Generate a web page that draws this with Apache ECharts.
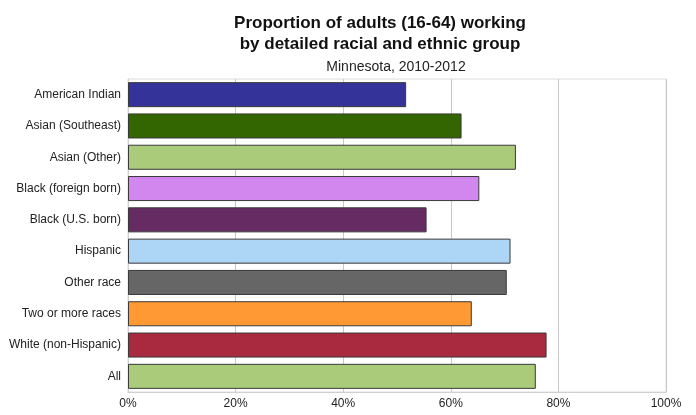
<!DOCTYPE html>
<html>
<head>
<meta charset="utf-8">
<script src="https://cdn.jsdelivr.net/npm/echarts@6/dist/echarts.min.js"></script>
<style>
    html, body { margin: 0; padding: 0; background: #fff; }
    #main { width: 696px; height: 415px; }
</style>
</head>
<body>
<div id="main"></div>
<script type="text/javascript">
    // groups, top to bottom
    var categories = ['American Indian', 'Asian (Southeast)', 'Asian (Other)', 'Black (foreign born)',
        'Black (U.S. born)', 'Hispanic', 'Other race', 'Two or more races', 'White (non-Hispanic)', 'All'];
    // share of adults working, percent
    var values = [51.7, 62.0, 72.1, 65.3, 55.5, 71.1, 70.4, 63.9, 77.8, 75.8];
    var barColors = ['#333399', '#336600', '#aacb7a', '#d287ee', '#662b63', '#acd5f6',
        '#666666', '#ff9933', '#a92a3f', '#aacb7a'];

    var myChart = echarts.init(document.getElementById('main'));
    var option = {
        animation: false,
        title : [
            {
                text: 'Proportion of adults (16-64) working\nby detailed racial and ethnic group',
                left: 375,
                top: 8,
                textAlign: 'center',
                textStyle: {
                    fontFamily: 'Liberation Sans',
                    fontSize: 17,
                    fontWeight: 'bold',
                    color: '#111',
                    lineHeight: 21
                }
            },
            {
                text: 'Minnesota, 2010-2012',
                left: 391,
                top: 55,
                textAlign: 'center',
                textStyle: {
                    fontFamily: 'Liberation Sans',
                    fontSize: 14,
                    fontWeight: 'normal',
                    color: '#222'
                }
            }
        ],
        grid: {
            left: 128,
            right: 30,
            top: 79,
            bottom: 23,
            show: true,
            borderColor: '#dcdcdc',
            borderWidth: 1
        },
        xAxis: {
            type: 'value',
            min: 0,
            max: 100,
            interval: 20,
            axisLine: { show: true, lineStyle: { color: '#d0d0d0' } },
            axisTick: { show: false },
            splitLine: { show: true, lineStyle: { color: '#c8c8c8' } },
            axisLabel: {
                formatter: '{value}%',
                fontFamily: 'Liberation Sans',
                fontSize: 12,
                color: '#222',
                margin: 6
            }
        },
        yAxis: {
            type: 'category',
            inverse: true,
            data: categories,
            axisLine: { show: true, lineStyle: { color: '#d0d0d0' } },
            axisTick: { show: false },
            axisLabel: {
                fontFamily: 'Liberation Sans',
                fontSize: 12,
                color: '#222',
                margin: 7
            }
        },
        series: [
            {
                type: 'bar',
                barCategoryGap: '20%',
                data: values.map(function (v, i) {
                    return {
                        value: v,
                        itemStyle: { color: barColors[i], borderColor: '#3a3a3a', borderWidth: 1 }
                    };
                })
            }
        ]
    };

    myChart.setOption(option);
</script>
</body>
</html>
